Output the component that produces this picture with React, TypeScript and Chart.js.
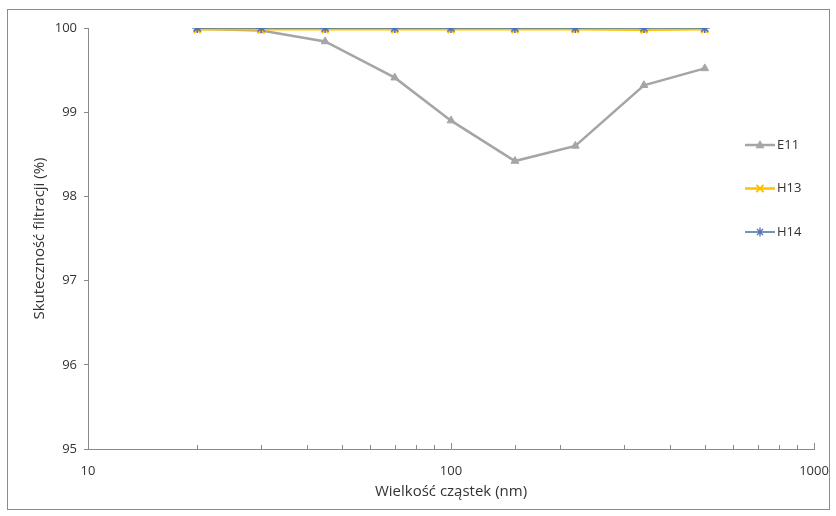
import React, { useEffect, useRef } from 'react';
import { Chart, registerables } from 'chart.js';

Chart.register(...registerables);

const sizes = [20, 30, 45, 70, 100, 150, 220, 340, 500];
const e11 = [99.99, 99.97, 99.84, 99.41, 98.9, 98.42, 98.6, 99.32, 99.52];
const h13 = [99.985, 99.985, 99.985, 99.985, 99.985, 99.985, 99.985, 99.98, 99.985];
const h14 = [100, 100, 100, 100, 100, 100, 100, 100, 100];
const seriesNames = ['E11', 'H13', 'H14'];
const seriesColors = ['#A5A5A5', '#FFC000', '#4B7BA6'];
const markerColors = ['#A5A5A5', '#FFC000', '#4F6FB8'];
const markerStyles = ['triangle', 'crossRot', 'star'];
const xMajorTicks = [10, 100, 1000];
const yMin = 95;
const yMax = 100;
const xTitle = 'Wielkość cząstek (nm)';
const yTitle = 'Skuteczność filtracji (%)';

const FONT = '"Open Sans", "Liberation Sans", sans-serif';
const TEXT = '#333333';
const AXIS = '#8A8A8A';

function drawMarker(ctx: CanvasRenderingContext2D, style: string, x: number, y: number, r: number, color: string) {
  ctx.save();
  ctx.strokeStyle = color;
  ctx.fillStyle = color;
  ctx.beginPath();
  if (style === 'triangle') {
    ctx.moveTo(x, y - r * 1.1);
    ctx.lineTo(x + r, y + r * 0.7);
    ctx.lineTo(x - r, y + r * 0.7);
    ctx.closePath();
    ctx.fill();
  } else if (style === 'crossRot') {
    ctx.lineWidth = 2;
    ctx.moveTo(x - r * 0.8, y - r * 0.8);
    ctx.lineTo(x + r * 0.8, y + r * 0.8);
    ctx.moveTo(x + r * 0.8, y - r * 0.8);
    ctx.lineTo(x - r * 0.8, y + r * 0.8);
    ctx.stroke();
  } else {
    ctx.lineWidth = 1.3;
    ctx.moveTo(x - r * 0.7, y - r * 0.7);
    ctx.lineTo(x + r * 0.7, y + r * 0.7);
    ctx.moveTo(x + r * 0.7, y - r * 0.7);
    ctx.lineTo(x - r * 0.7, y + r * 0.7);
    ctx.moveTo(x, y - r);
    ctx.lineTo(x, y + r);
    ctx.stroke();
  }
  ctx.restore();
}

const framePlugin = {
  id: 'frame',
  beforeDraw(chart: any) {
    const ctx = chart.ctx;
    ctx.save();
    ctx.fillStyle = '#ffffff';
    ctx.fillRect(0, 0, chart.width, chart.height);
    ctx.strokeStyle = '#8C8C8C';
    ctx.lineWidth = 1;
    ctx.strokeRect(7.5, 9.5, 822, 500);
    ctx.restore();
  },
  afterDraw(chart: any) {
    const ctx = chart.ctx;
    const xs = chart.scales.x;
    const bottom = chart.chartArea.bottom;
    ctx.save();
    ctx.strokeStyle = AXIS;
    ctx.lineWidth = 1;
    xs.ticks.forEach((t: any) => {
      const px = Math.round(xs.getPixelForValue(t.value)) + 0.5;
      const major = xMajorTicks.includes(t.value);
      ctx.beginPath();
      ctx.moveTo(px, bottom);
      ctx.lineTo(px, bottom - (major ? 6 : 4));
      ctx.stroke();
    });
    // legend
    const lx = 745;
    const ly0 = 145;
    const step = 43.5;
    chart.data.datasets.forEach((ds: any, i: number) => {
      const y = ly0 + i * step;
      ctx.strokeStyle = ds.borderColor;
      ctx.lineWidth = ds.borderWidth;
      ctx.beginPath();
      ctx.moveTo(lx, y);
      ctx.lineTo(lx + 30, y);
      ctx.stroke();
      drawMarker(ctx, markerStyles[i], lx + 15, y, 4.5, markerColors[i]);
      ctx.fillStyle = TEXT;
      ctx.font = `13px ${FONT}`;
      ctx.textBaseline = 'middle';
      ctx.textAlign = 'left';
      ctx.fillText(ds.label, lx + 32, y);
    });
    ctx.restore();
  },
};

export default function App() {
  const ref = useRef<HTMLCanvasElement | null>(null);
  useEffect(() => {
    if (!ref.current) return;
    const toPts = (vals: number[]) => sizes.map((s, i) => ({ x: s, y: vals[i] }));
    const series = [e11, h13, h14];
    const chart = new Chart(ref.current, {
      type: 'line',
      data: {
        datasets: series.map((vals, i) => ({
          label: seriesNames[i],
          data: toPts(vals),
          borderColor: seriesColors[i],
          backgroundColor: markerColors[i],
          pointBackgroundColor: markerColors[i],
          pointBorderColor: markerColors[i],
          pointStyle: markerStyles[i] as any,
          pointRadius: i === 0 ? 4.5 : 5,
          pointBorderWidth: i === 0 ? 1 : i === 1 ? 2.5 : 1.5,
          borderWidth: i === 2 ? 1.6 : 2.5,
          order: 2 - i,
          tension: 0,
          fill: false,
        })),
      },
      options: {
        responsive: false,
        animation: false,
        devicePixelRatio: 1,
        layout: { padding: { left: 0, right: 22, top: 28, bottom: 0 } },
        plugins: { legend: { display: false }, tooltip: { enabled: false } },
        scales: {
          x: {
            type: 'logarithmic',
            min: 10,
            max: 1000,
            border: { display: true, color: AXIS, width: 1 },
            grid: { display: false, drawTicks: false },
            ticks: {
              autoSkip: false,
              maxRotation: 0,
              padding: 14,
              color: TEXT,
              font: { family: FONT, size: 13 },
              callback: (v: any) => (xMajorTicks.includes(Number(v)) ? String(v) : ''),
            },
            title: {
              display: true,
              text: xTitle,
              color: TEXT,
              font: { family: FONT, size: 15 },
              padding: { top: 0, bottom: 15 },
            },
            afterFit: (s: any) => { s.height = 67; s.paddingLeft = 0; s.paddingRight = 0; },
          },
          y: {
            type: 'linear',
            min: yMin,
            max: yMax,
            border: { display: true, color: AXIS, width: 1 },
            grid: { display: true, drawOnChartArea: false, drawTicks: true, tickLength: 4, color: AXIS },
            ticks: {
              stepSize: 1,
              padding: 7,
              color: TEXT,
              font: { family: FONT, size: 13 },
            },
            title: {
              display: true,
              text: yTitle,
              color: TEXT,
              font: { family: FONT, size: 15 },
              padding: { top: 31, bottom: 0 },
            },
            afterFit: (s: any) => { s.width = 88; s.paddingTop = 0; s.paddingBottom = 0; },
          },
        },
      },
      plugins: [framePlugin],
    });
    return () => chart.destroy();
  }, []);
  return (
    <div style={{ position: 'absolute', left: 0, top: 0, width: 836, height: 516 }}>
      <canvas ref={ref} width={836} height={516} style={{ display: 'block', width: 836, height: 516 }} />
    </div>
  );
}
